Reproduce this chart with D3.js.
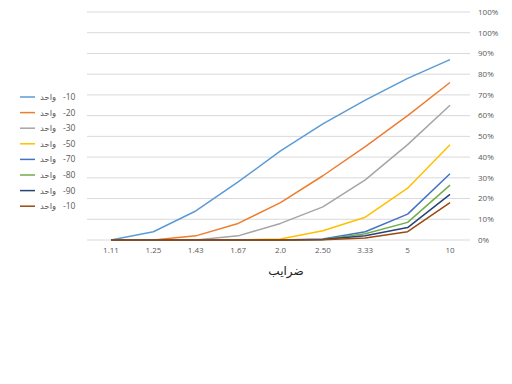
<!DOCTYPE html>
<html lang="fa">
<head>
  <meta charset="UTF-8">
  <title>ضرایب</title>
  <script src="https://d3js.org/d3.v7.min.js"></script>
  <style>
    body { margin: 0; background: #fff; font-family: "Open Sans", "DejaVu Sans", sans-serif; }
    svg { display: block; }
    .tick-label { fill: #595959; font-size: 8px; }
    .legend-label { fill: #595959; font-size: 8.5px; }
  </style>
</head>
<body>
  <svg id="chart" width="512" height="384"></svg>

  <script>
    // categories on the x axis
    const categories = ['1.11', '1.25', '1.43', '1.67', '2.0', '2.50', '3.33', '5', '10'];

    // y ticks (the top one reads 100% again in the original)
    const yTicks = [0, 0.1, 0.2, 0.3, 0.4, 0.5, 0.6, 0.7, 0.8, 0.9, 1.0, 1.1];
    const yTickLabels = ['0%', '10%', '20%', '30%', '40%', '50%', '60%', '70%', '80%', '90%', '100%', '100%'];

    // series, values
    const seriesNames = ['-10', '-20', '-30', '-50', '-70', '-80', '-90', '-10'];
    const seriesColors = ['#5b9bd5', '#ed7d31', '#a5a5a5', '#ffc000', '#4472c4', '#70ad47', '#264478', '#9e480e'];
    const s10 = [0, 0.04, 0.14, 0.28, 0.43, 0.56, 0.675, 0.78, 0.87];
    const s20 = [0, 0, 0.02, 0.08, 0.18, 0.31, 0.45, 0.60, 0.76];
    const s30 = [0, 0, 0, 0.02, 0.08, 0.16, 0.29, 0.46, 0.65];
    const s50 = [0, 0, 0, 0, 0.005, 0.045, 0.11, 0.25, 0.46];
    const s70 = [0, 0, 0, 0, 0, 0.005, 0.04, 0.125, 0.32];
    const s80 = [0, 0, 0, 0, 0, 0.003, 0.03, 0.085, 0.265];
    const s90 = [0, 0, 0, 0, 0, 0.002, 0.02, 0.06, 0.22];
    const s10b = [0, 0, 0, 0, 0, 0.001, 0.01, 0.04, 0.18];
    const seriesValues = [s10, s20, s30, s50, s70, s80, s90, s10b];

    const svg = d3.select('#chart');

    const x = d3.scalePoint()
      .domain(categories)
      .range([111, 450]);

    const y = d3.scaleLinear()
      .domain([0, 1.1])
      .range([240, 12]);

    // gridlines
    svg.append('g')
      .selectAll('line')
      .data(yTicks)
      .join('line')
        .attr('x1', 87)
        .attr('x2', 470)
        .attr('y1', d => y(d))
        .attr('y2', d => y(d))
        .attr('stroke', '#d9d9d9')
        .attr('stroke-width', 1);

    // right axis labels
    svg.append('g')
      .selectAll('text')
      .data(yTicks)
      .join('text')
        .attr('class', 'tick-label')
        .attr('x', 478)
        .attr('y', d => y(d))
        .attr('dy', '0.35em')
        .text((d, i) => yTickLabels[i]);

    // x axis labels
    svg.append('g')
      .selectAll('text')
      .data(categories)
      .join('text')
        .attr('class', 'tick-label')
        .attr('x', d => x(d))
        .attr('y', 253)
        .attr('text-anchor', 'middle')
        .text(d => d);

    // axis title
    svg.append('text')
      .attr('x', 286)
      .attr('y', 275)
      .attr('text-anchor', 'middle')
      .attr('font-size', '12px')
      .attr('fill', '#222')
      .text('ضرایب');

    // lines
    const line = d3.line()
      .x((d, i) => x(categories[i]))
      .y(d => y(d));

    svg.append('g')
      .selectAll('path')
      .data(seriesValues)
      .join('path')
        .attr('d', line)
        .attr('fill', 'none')
        .attr('stroke', (d, i) => seriesColors[i])
        .attr('stroke-width', 1.5)
        .attr('stroke-linejoin', 'round');

    // legend: line, then "واحد", then the number
    const legend = svg.append('g')
      .selectAll('g')
      .data(seriesNames)
      .join('g')
        .attr('transform', (d, i) => `translate(20,${97 + i * 15.6})`);

    legend.append('line')
      .attr('x1', 0).attr('x2', 15)
      .attr('stroke', (d, i) => seriesColors[i])
      .attr('stroke-width', 1.5);

    legend.append('text')
      .attr('class', 'legend-label')
      .attr('x', 20)
      .attr('dy', '0.35em')
      .text('واحد');

    legend.append('text')
      .attr('class', 'legend-label')
      .attr('x', 43)
      .attr('dy', '0.35em')
      .text(d => d);
  </script>
</body>
</html>
